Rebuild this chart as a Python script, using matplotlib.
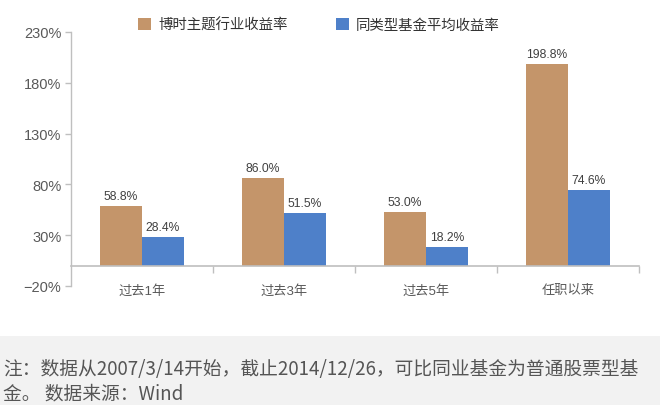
import matplotlib
matplotlib.use("Agg")
import matplotlib.pyplot as plt
from matplotlib.patches import Rectangle, Patch

categories = ["过去1年", "过去3年", "过去5年", "任职以来"]
series_names = ["博时主题行业收益率", "同类型基金平均收益率"]
bosh_values = [58.8, 86.0, 53.0, 198.8]
peer_values = [28.4, 51.5, 18.2, 74.6]
y_ticks = [-20, 30, 80, 130, 180, 230]
note_line1 = "注：数据从2007/3/14开始，截止2014/12/26，可比同业基金为普通股票型基"
note_line2 = "金。 数据来源：Wind"

ORANGE = "#C4956A"
BLUE = "#4E80C9"
AXIS = "#BFBFBF"
LAT = ["Liberation Sans", "Noto Sans CJK SC", "DejaVu Sans"]
CJK = ["Noto Sans CJK SC", "DejaVu Sans"]
plt.rcParams["font.family"] = LAT

W, H = 660, 406
fig = plt.figure(figsize=(W / 100, H / 100), dpi=100)
fig.patch.set_facecolor("white")

# footnote band
fig.patches.append(Rectangle((0, 0), 1, (H - 337) / H, transform=fig.transFigure,
                             facecolor="#F2F2F2", edgecolor="none", zorder=0))

left, right = 71 / W, 639 / W
bottom, top = (H - 287) / H, (H - 33) / H
ax = fig.add_axes([left, bottom, right - left, top - bottom])
ax.set_facecolor("none")

bw = 0.295
centers = [i + 0.5 for i in range(len(categories))]
b1 = ax.bar([c - bw for c in centers], bosh_values, width=bw, align="edge",
            color=ORANGE, zorder=2)
b2 = ax.bar(centers, peer_values, width=bw, align="edge", color=BLUE, zorder=2)

for bars, vals in ((b1, bosh_values), (b2, peer_values)):
    for r, v in zip(bars, vals):
        ax.annotate(f"{v:.1f}%", (r.get_x() + r.get_width() / 2, v),
                    xytext=(0, 3), textcoords="offset points", ha="center",
                    va="bottom", fontsize=8.7, color="#404040")

ax.set_xlim(0, len(categories))
ax.set_ylim(-20, 230)
ax.set_yticks(y_ticks)
ax.set_yticklabels([f"{t}%".replace("-", "\u2212") for t in y_ticks])
ax.tick_params(axis="y", direction="out", length=4, width=1, color=AXIS,
               labelsize=10.5, labelcolor="#595959", pad=3)

ax.set_xticks(centers)
ax.set_xticklabels(categories, fontfamily=CJK)
ax.tick_params(axis="x", which="major", length=0, pad=13, labelsize=9.5,
               labelcolor="#595959")
ax.set_xticks(range(1, len(categories) + 1), minor=True)
ax.tick_params(axis="x", which="minor", direction="out", length=5, width=1,
               color=AXIS)

for s in ("top", "right"):
    ax.spines[s].set_visible(False)
ax.spines["left"].set_color(AXIS)
ax.spines["bottom"].set_color(AXIS)
ax.spines["bottom"].set_position(("data", 0))
ax.spines["left"].set_linewidth(1)
ax.spines["bottom"].set_linewidth(1.2)

handles = [Patch(facecolor=ORANGE, edgecolor="none"),
           Patch(facecolor=BLUE, edgecolor="none")]
fig.legend(handles, series_names, loc="center", ncol=2,
           bbox_to_anchor=(319 / W, 1 - 26 / H), frameon=False,
           prop={"family": CJK, "size": 10.4}, labelcolor="#333333",
           handlelength=0.9, handleheight=0.9, handletextpad=0.5,
           columnspacing=3.3)

fig.text(3 / W, (H - 370) / H, note_line1, fontfamily=CJK, fontsize=13.5,
         color="#555555", va="center", ha="left")
fig.text(3 / W, (H - 394) / H, note_line2, fontfamily=CJK, fontsize=13.5,
         color="#555555", va="center", ha="left")

fig.savefig("out.png", dpi=100)
